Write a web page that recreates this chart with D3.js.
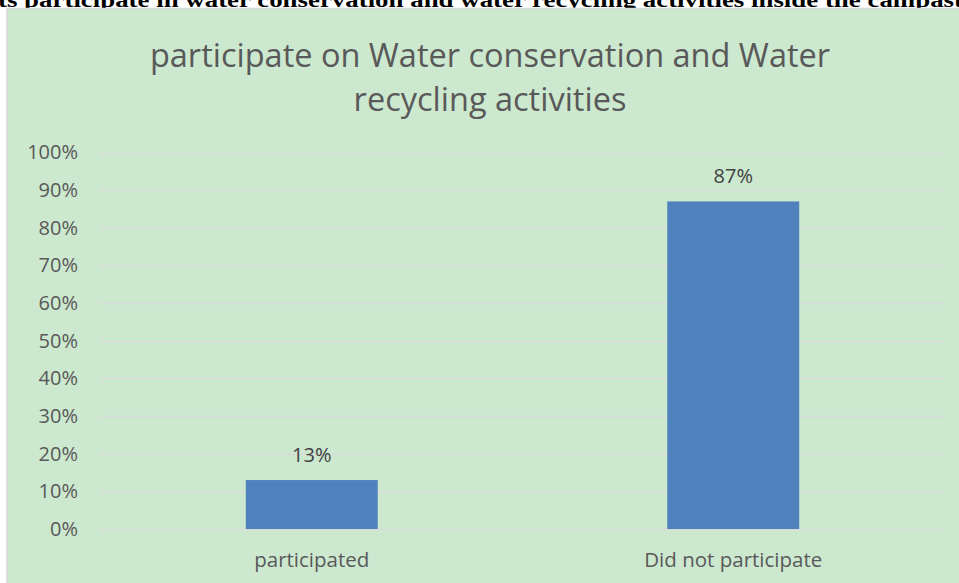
<!DOCTYPE html>
<html>
<head>
<meta charset="utf-8">
<script src="https://cdnjs.cloudflare.com/ajax/libs/d3/7.8.5/d3.min.js"></script>
<style>
html,body{margin:0;padding:0;background:#fff;overflow:hidden;}
svg{display:block;}
</style>
</head>
<body>
<svg id="chart" width="959" height="583"></svg>
<script>
const categories = ["participated", "Did not participate"];
const values = [0.13, 0.87];
const valueLabels = ["13%", "87%"];
const tickValues = [0, 0.1, 0.2, 0.3, 0.4, 0.5, 0.6, 0.7, 0.8, 0.9, 1.0];
const titleLines = ["participate on Water conservation and Water", "recycling activities"];
const captionText = "ts participate in water conservation and water recycling activities inside the campast";

const svg = d3.select("#chart");
const W = 959, H = 583;

// caption clipped at the top (as in the reference)
svg.append("text")
  .attr("x", -2).attr("y", 7)
  .attr("font-family", "'Liberation Serif', 'Times New Roman', serif")
  .attr("font-weight", "bold")
  .attr("font-size", 22)
  .attr("fill", "#000")
  .attr("textLength", 965)
  .attr("lengthAdjust", "spacingAndGlyphs")
  .text(captionText);

// chart panel
svg.append("rect")
  .attr("x", 7).attr("y", 8.5)
  .attr("width", W).attr("height", H)
  .attr("fill", "#cce8cf")
  .attr("stroke", "#d9d9d9").attr("stroke-width", 1.5);

const plot = {left: 101, right: 944, top: 152.5, bottom: 529};

const x = d3.scaleBand()
  .domain(categories)
  .range([plot.left, plot.right])
  .paddingInner(0.687)
  .paddingOuter(0.3435);

const y = d3.scaleLinear()
  .domain([0, 1])
  .range([plot.bottom, plot.top]);

// gridlines
svg.append("g")
  .selectAll("line")
  .data(tickValues)
  .join("line")
  .attr("x1", plot.left).attr("x2", plot.right)
  .attr("y1", d => Math.round(y(d)) + 0.5)
  .attr("y2", d => Math.round(y(d)) + 0.5)
  .attr("stroke", "#d9d9d9").attr("stroke-width", 1.5);

// y axis labels
const yAxis = d3.axisLeft(y)
  .tickValues(tickValues)
  .tickFormat(d3.format(".0%"))
  .tickSize(0).tickPadding(0);
const ya = svg.append("g")
  .attr("transform", `translate(78,0)`)
  .call(yAxis);
ya.select(".domain").remove();
ya.selectAll("text")
  .attr("font-family", "'Open Sans', sans-serif")
  .attr("font-size", 20)
  .attr("fill", "#595959");

// bars
svg.append("g")
  .selectAll("rect")
  .data(values)
  .join("rect")
  .attr("x", (d, i) => x(categories[i]))
  .attr("width", x.bandwidth())
  .attr("y", d => y(d))
  .attr("height", d => y(0) - y(d))
  .attr("fill", "#4f81bd");

// value labels
svg.append("g")
  .selectAll("text")
  .data(values)
  .join("text")
  .attr("x", (d, i) => x(categories[i]) + x.bandwidth() / 2)
  .attr("y", d => y(d) - 18)
  .attr("text-anchor", "middle")
  .attr("font-family", "'Open Sans', sans-serif")
  .attr("font-size", 20)
  .attr("fill", "#404040")
  .text((d, i) => valueLabels[i]);

// x axis labels
const xAxis = d3.axisBottom(x).tickSize(0).tickPadding(0);
const xa = svg.append("g")
  .attr("transform", `translate(0,552)`)
  .call(xAxis);
xa.select(".domain").remove();
xa.selectAll("text")
  .attr("font-family", "'Open Sans', sans-serif")
  .attr("font-size", 20.5)
  .attr("fill", "#595959");

// title
svg.append("g")
  .selectAll("text")
  .data(titleLines)
  .join("text")
  .attr("x", 490)
  .attr("y", (d, i) => 66.5 + i * 44)
  .attr("text-anchor", "middle")
  .attr("font-family", "'Open Sans', sans-serif")
  .attr("font-size", 32.5)
  .attr("fill", "#595959")
  .text(d => d);
</script>
</body>
</html>
